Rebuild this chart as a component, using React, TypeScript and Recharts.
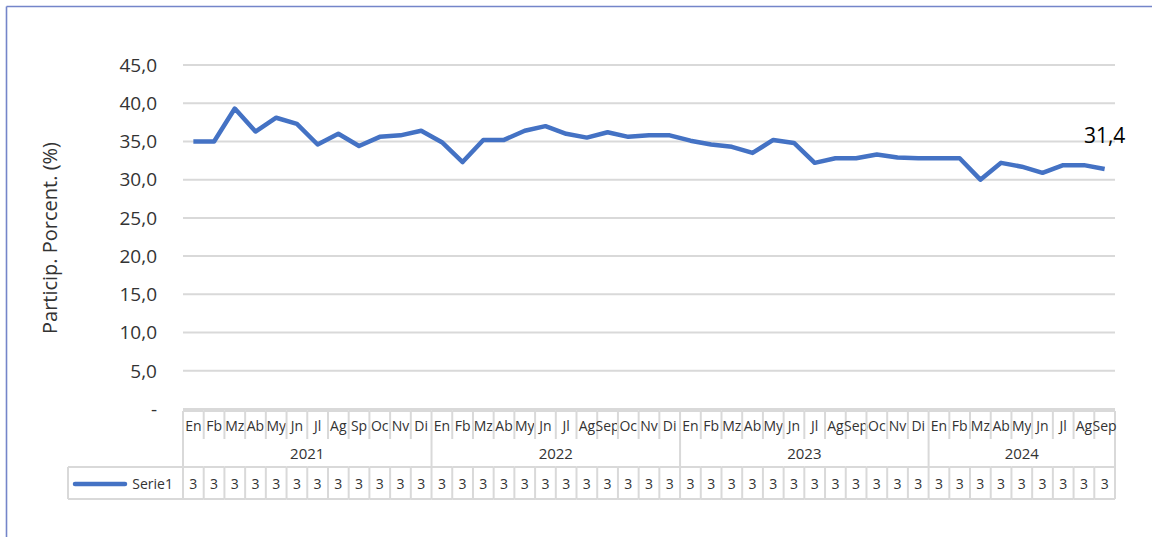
import { CartesianGrid, LabelList, Line, LineChart, XAxis, YAxis } from "recharts";

// month labels as shown in the data table (Excel style abbreviations)
const MONTHS = [
  "En", "Fb", "Mz", "Ab", "My", "Jn", "Jl", "Ag", "Sp", "Oc", "Nv", "Di",
  "En", "Fb", "Mz", "Ab", "My", "Jn", "Jl", "Ag", "Sep", "Oc", "Nv", "Di",
  "En", "Fb", "Mz", "Ab", "My", "Jn", "Jl", "Ag", "Sep", "Oc", "Nv", "Di",
  "En", "Fb", "Mz", "Ab", "My", "Jn", "Jl", "Ag", "Sep",
];
const YEAR_LABELS = ["2021", "2022", "2023", "2024"];
const YEAR_LENGTHS = [12, 12, 12, 9];

const SERIE1 = [
  35.0, 35.0, 39.3, 36.3, 38.1, 37.3, 34.6, 36.0, 34.4, 35.6, 35.8, 36.4,
  34.9, 32.3, 35.2, 35.2, 36.4, 37.0, 36.0, 35.5, 36.2, 35.6, 35.8, 35.8,
  35.1, 34.6, 34.3, 33.5, 35.2, 34.8, 32.2, 32.8, 32.8, 33.3, 32.9, 32.8,
  32.8, 32.8, 30.0, 32.2, 31.7, 30.9, 31.9, 31.9, 31.4,
];
const Y_TICKS = [0, 5, 10, 15, 20, 25, 30, 35, 40, 45];

const data = MONTHS.map((m, i) => ({ key: `${i}`, month: m, value: SERIE1[i] }));

// layout
const W = 1152;
const H = 537;
const PLOT_LEFT = 183;
const PLOT_RIGHT = 1115;
const PLOT_TOP = 65;
const PLOT_BOTTOM = 409;
const Y_AXIS_W = 110;
const X_AXIS_H = 100;
const BAND = (PLOT_RIGHT - PLOT_LEFT) / MONTHS.length;

const ROW_TOP = PLOT_BOTTOM + 2;
const MONTH_SEP_BOTTOM = ROW_TOP + 28;
const YEAR_BOTTOM = ROW_TOP + 56;
const DATA_BOTTOM = YEAR_BOTTOM + 32;
const LEGEND_LEFT = 68;

const FONT = "'Open Sans', sans-serif";
const TEXT = "#333333";
const GRID = "#d9d9d9";
const BLUE = "#4472c4";
const FRAME = "#7485c9";

const YEAR_STARTS = YEAR_LENGTHS.map((_, i) =>
  YEAR_LENGTHS.slice(0, i).reduce((a, b) => a + b, 0)
);

const fmt = (v: number) => (v === 0 ? "-" : v.toFixed(1).replace(".", ","));

function TableTick(props: any) {
  const { x, index } = props;
  const l = x - BAND / 2;
  const r = x + BAND / 2;
  const yi = YEAR_STARTS.indexOf(index);
  const value = SERIE1[index];
  // the table cell is too narrow, Excel only shows the first character
  const cellText = fmt(value).charAt(0);
  return (
    <g fontFamily={FONT}>
      <line x1={l} x2={r} y1={ROW_TOP} y2={ROW_TOP} stroke={GRID} strokeWidth={2} />
      <line x1={l} x2={r} y1={YEAR_BOTTOM} y2={YEAR_BOTTOM} stroke={GRID} strokeWidth={2} />
      <line x1={l} x2={r} y1={DATA_BOTTOM} y2={DATA_BOTTOM} stroke={GRID} strokeWidth={2} />
      <line x1={l} x2={l} y1={YEAR_BOTTOM} y2={DATA_BOTTOM} stroke={GRID} strokeWidth={2} />
      {yi >= 0 ? (
        <>
          <line x1={l} x2={l} y1={ROW_TOP} y2={YEAR_BOTTOM} stroke={GRID} strokeWidth={2} />
          <text
            x={l + (YEAR_LENGTHS[yi] * BAND) / 2}
            y={YEAR_BOTTOM - 8}
            textAnchor="middle"
            fontSize={15}
            fill={TEXT}
          >
            {YEAR_LABELS[yi]}
          </text>
        </>
      ) : (
        <line x1={l} x2={l} y1={ROW_TOP} y2={MONTH_SEP_BOTTOM} stroke={GRID} strokeWidth={2} />
      )}
      {index === MONTHS.length - 1 ? (
        <line x1={r} x2={r} y1={ROW_TOP} y2={DATA_BOTTOM} stroke={GRID} strokeWidth={2} />
      ) : null}
      <text x={x} y={ROW_TOP + 20} textAnchor="middle" fontSize={14} fill={TEXT}>
        {MONTHS[index]}
      </text>
      <text x={x} y={DATA_BOTTOM - 10} textAnchor="middle" fontSize={14} fill={TEXT}>
        {cellText}
      </text>
      {index === 0 ? (
        <>
          <line x1={LEGEND_LEFT} x2={l} y1={YEAR_BOTTOM} y2={YEAR_BOTTOM} stroke={GRID} strokeWidth={2} />
          <line x1={LEGEND_LEFT} x2={l} y1={DATA_BOTTOM} y2={DATA_BOTTOM} stroke={GRID} strokeWidth={2} />
          <line x1={LEGEND_LEFT} x2={LEGEND_LEFT} y1={YEAR_BOTTOM} y2={DATA_BOTTOM} stroke={GRID} strokeWidth={2} />
          <line
            x1={LEGEND_LEFT + 7}
            x2={LEGEND_LEFT + 57}
            y1={(YEAR_BOTTOM + DATA_BOTTOM) / 2 + 1}
            y2={(YEAR_BOTTOM + DATA_BOTTOM) / 2 + 1}
            stroke={BLUE}
            strokeWidth={4.5}
            strokeLinecap="round"
          />
          <text x={l - 10} y={DATA_BOTTOM - 10} textAnchor="end" fontSize={14} fill={TEXT}>
            Serie1
          </text>
        </>
      ) : null}
    </g>
  );
}

function LastValueLabel(props: any) {
  const { x, y, index, value } = props;
  if (index !== SERIE1.length - 1) return null;
  return (
    <text x={x} y={y - 26} textAnchor="middle" fontSize={21} fill="#000" fontFamily={FONT}>
      {fmt(value)}
    </text>
  );
}

export default function App() {
  return (
    <div style={{ position: "absolute", left: 0, top: 0, width: W, height: H, overflow: "hidden", background: "#fff" }}>
      <svg width={W} height={H} style={{ position: "absolute", left: 0, top: 0 }}>
        <line x1={6.5} x2={W} y1={6.5} y2={6.5} stroke={FRAME} strokeWidth={1.6} />
        <line x1={6.5} x2={6.5} y1={6.5} y2={H} stroke={FRAME} strokeWidth={1.6} />
      </svg>
      <div style={{ position: "absolute", left: 0, top: 0 }}>
        <LineChart
          width={W}
          height={H}
          data={data}
          margin={{
            top: PLOT_TOP,
            right: W - PLOT_RIGHT,
            left: PLOT_LEFT - Y_AXIS_W,
            bottom: H - PLOT_BOTTOM - X_AXIS_H,
          }}
        >
          <CartesianGrid vertical={false} stroke={GRID} strokeWidth={2} />
          <XAxis
            dataKey="key"
            height={X_AXIS_H}
            interval={0}
            axisLine={false}
            tickLine={false}
            padding={{ left: BAND / 2, right: BAND / 2 }}
            tick={<TableTick />}
          />
          <YAxis
            width={Y_AXIS_W}
            domain={[0, 45]}
            ticks={Y_TICKS}
            tickFormatter={fmt}
            axisLine={false}
            tickLine={false}
            tickMargin={20}
            tick={{ fontSize: 19, fill: TEXT, fontFamily: FONT }}
            label={{
              content: () => (
                <text
                  x={49}
                  y={238}
                  transform="rotate(-90, 49, 238)"
                  textAnchor="middle"
                  dominantBaseline="central"
                  fontSize={20}
                  fill={TEXT}
                  fontFamily={FONT}
                >
                  Particip. Porcent. (%)
                </text>
              ),
            }}
          />
          <Line
            type="linear"
            dataKey="value"
            stroke={BLUE}
            strokeWidth={4.5}
            strokeLinejoin="round"
            dot={false}
            activeDot={false}
            isAnimationActive={false}
          >
            <LabelList dataKey="value" content={<LastValueLabel />} />
          </Line>
        </LineChart>
      </div>
    </div>
  );
}
